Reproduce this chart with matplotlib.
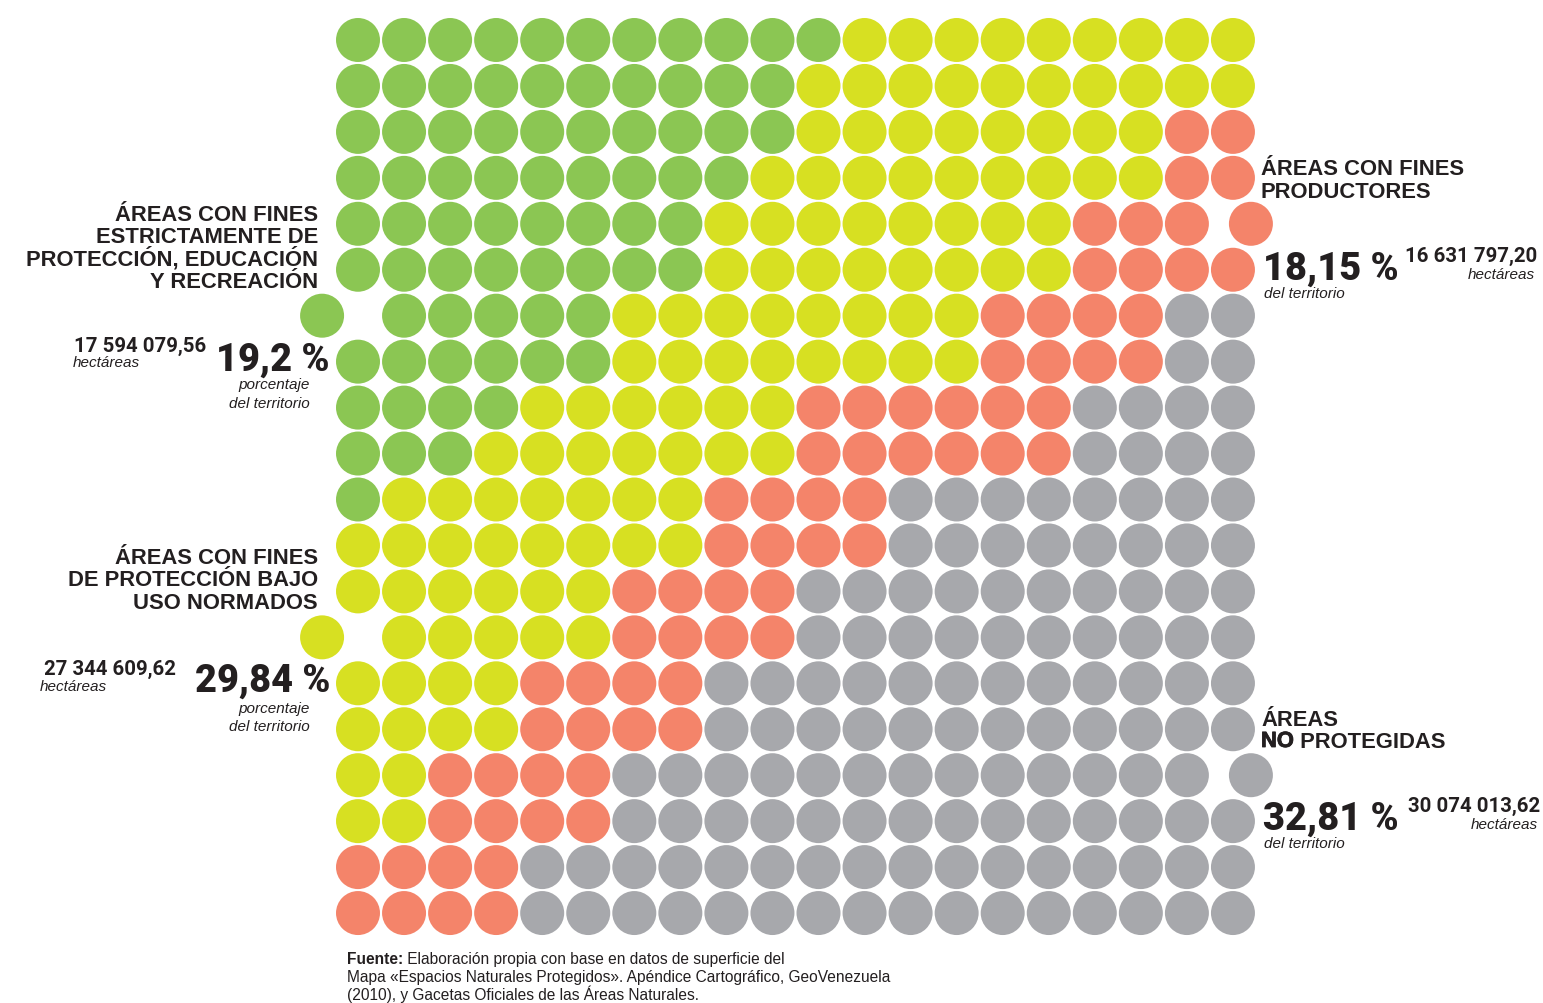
import matplotlib

matplotlib.use("Agg")
import matplotlib.pyplot as plt  # noqa: E402
import matplotlib.patheffects as pe  # noqa: E402

W, H = 1543, 1004
NUM_FONT = "Roboto"
TXT_FONT = "Liberation Sans"
INK = "#231F20"

# category order in each row, left to right
COLORS = ["#8BC653", "#D7E022", "#F4846A", "#A7A8AC"]

# number of dots of each category in each of the 20 rows (20 dots per row)
ESTRICTA = [11, 10, 10, 9, 8, 8, 6, 6, 4, 3, 1, 0, 0, 0, 0, 0, 0, 0, 0, 0]
BAJO_USO = [9, 10, 8, 9, 8, 8, 8, 8, 6, 7, 7, 8, 6, 6, 4, 4, 2, 2, 0, 0]
PRODUCTORES = [0, 0, 2, 2, 4, 4, 4, 4, 6, 6, 4, 4, 4, 4, 4, 4, 4, 4, 4, 4]
NO_PROTEGIDAS = [0, 0, 0, 0, 0, 0, 2, 2, 4, 4, 8, 8, 10, 10, 12, 12, 14, 14, 16, 16]

# rows where the first / last dot is pulled out of the grid
OFFSET_ROWS = {4: "right", 6: "left", 13: "left", 16: "right"}

HECTAREAS = ["17 594 079,56", "27 344 609,62", "16 631 797,20", "30 074 013,62"]
PORCENTAJES = ["19,2 %", "29,84 %", "18,15 %", "32,81 %"]

FUENTE = [
    "Elaboración propia con base en datos de superficie del",
    "Mapa «Espacios Naturales Protegidos». Apéndice Cartográfico, GeoVenezuela",
    "(2010), y Gacetas Oficiales de las Áreas Naturales.",
]

fig = plt.figure(figsize=(W / 100, H / 100), dpi=100)
ax = fig.add_axes([0, 0, 1, 1])
ax.set_xlim(-358 / 46.05, (W - 358) / 46.05)
ax.set_ylim((H - 41) / 45.95, -41 / 45.95)
ax.axis("off")

series = [ESTRICTA, BAJO_USO, PRODUCTORES, NO_PROTEGIDAS]
for r in range(20):
    cats = []
    for k, s in enumerate(series):
        cats += [k] * s[r]
    xs = list(range(len(cats)))
    side = OFFSET_ROWS.get(r)
    if side == "left":
        xs[0] = -0.78
    elif side == "right":
        xs[-1] = 19.39
    ax.scatter(xs, [r] * len(xs), s=1003, c=[COLORS[k] for k in cats],
               linewidths=0, zorder=2)


def put(x, y, s, size, ha="left", weight="bold", style="normal", font=TXT_FONT):
    return fig.text(x / W, 1 - y / H, s, fontsize=size, ha=ha, va="baseline",
                    fontweight=weight, fontstyle=style, family=font, color=INK)


def heading(x, y0, lines, ha):
    for i, line in enumerate(lines):
        put(x, y0 + i * 22.4, line, 15.8, ha=ha)


def note(x, y, s, ha="left"):
    put(x, y, s, 11, ha=ha, weight="normal", style="italic")


def big(x, y, s, ha="left"):
    put(x, y, s, 27.3, ha=ha, weight="heavy", font=NUM_FONT)


def hect(x, y, s):
    put(x, y, s, 14.7, ha="right", font=NUM_FONT)


# left side
heading(318, 221, ["ÁREAS CON FINES", "ESTRICTAMENTE DE",
                   "PROTECCIÓN, EDUCACIÓN", "Y RECREACIÓN"], "right")
hect(206, 352, HECTAREAS[0])
note(73, 367, "hectáreas")
big(330, 371, PORCENTAJES[0], ha="right")
note(310, 389, "porcentaje", ha="right")
note(310, 408, "del territorio", ha="right")

heading(318, 564, ["ÁREAS CON FINES", "DE PROTECCIÓN BAJO",
                   "USO NORMADOS"], "right")
hect(176, 675, HECTAREAS[1])
note(40, 691, "hectáreas")
big(330, 692, PORCENTAJES[1], ha="right")
note(310, 713, "porcentaje", ha="right")
note(310, 731, "del territorio", ha="right")

# right side
heading(1261, 175.5, ["ÁREAS CON FINES", "PRODUCTORES"], "left")
big(1263, 280, PORCENTAJES[2])
note(1264, 298, "del territorio")
hect(1537, 262, HECTAREAS[2])
note(1535, 279, "hectáreas", ha="right")

put(1261, 725.5, "ÁREAS", 15.8)
no = put(1261, 748, "NO", 15.8)
no.set_path_effects([pe.withStroke(linewidth=0.6, foreground=INK)])
ax.annotate(" PROTEGIDAS", xy=(1, 0), xycoords=no, fontsize=15.8,
            fontweight="bold", family=TXT_FONT, color=INK,
            ha="left", va="bottom")
big(1263, 830, PORCENTAJES[3])
note(1264, 848, "del territorio")
hect(1540, 812, HECTAREAS[3])
note(1538, 829, "hectáreas", ha="right")

# source note
f = put(347, 964, "Fuente:", 11.2, weight="bold")
ax.annotate(" " + FUENTE[0], xy=(1, 0), xycoords=f, fontsize=11.2,
            family=TXT_FONT, color=INK, ha="left", va="bottom")
put(347, 982, FUENTE[1], 11.2, weight="normal")
put(347, 1000, FUENTE[2], 11.2, weight="normal")

fig.savefig("out.png", dpi=100)
